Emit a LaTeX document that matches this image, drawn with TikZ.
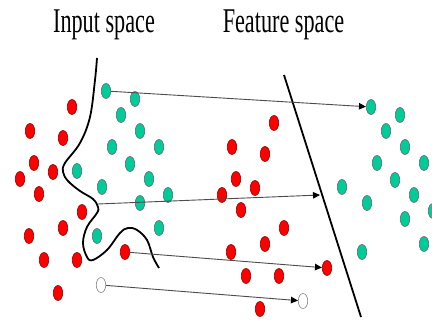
\documentclass[tikz,border=0pt]{standalone}
\usepackage{fontspec}
\setmainfont{Liberation Serif}
\usepackage{graphicx}
\usetikzlibrary{shapes.geometric,arrows.meta}
\definecolor{dotred}{RGB}{255,0,0}
\definecolor{dotteal}{RGB}{0,204,153}
\begin{document}
\begin{tikzpicture}[x=1pt,y=-1pt,
  dot/.style={ellipse,minimum width=9.5pt,minimum height=15pt,inner sep=0pt,line width=0.6pt},
  rdot/.style={dot,fill=dotred,draw=red!55!black},
  cdot/.style={dot,fill=dotteal,draw=black!60},
  wdot/.style={dot,fill=white,draw=black!50},
  arr/.style={draw=black!70,line width=0.9pt,-{Triangle[length=7pt,width=6.5pt,color=black]}},
  title/.style={font=\fontsize{34.7}{40}\selectfont,anchor=base,inner sep=0pt},
  boundary/.style={line width=1.8pt,black}]
\useasboundingbox (0,0) rectangle (432,320);
\fill[white] (0,0) rectangle (432,320);
% titles
\node[title] (tin) at (104,33) {\scalebox{0.64}[1]{Input space}};
\node[title] (tfe) at (283.5,33) {\scalebox{0.64}[1]{Feature space}};
% red points (input) and their images (feature)
\foreach \x/\y [count=\i] in {72/107,30/131,63/138,34/163,53/172,20/179,39/194,82/212,29/236,63/228,44/260,77/260,58/293,125/252}{
  \node[rdot] (r\i) at (\x,\y) {};
  \node[rdot] (fr\i) at (\x+202,\y+16) {};
}
% teal points (input) and their images (feature)
\foreach \x/\y [count=\i] in {106/91,135/99,121/115,140/131,112/147,159/147,130/164,77/171,149/179,102/187,168/195,140/203,159/228,97/236}{
  \node[cdot] (c\i) at (\x,\y) {};
  \node[cdot] (fc\i) at (\x+265,\y+16) {};
}
% white point
\node[wdot] (w) at (101,285) {};
\node[wdot] (fw) at (303,301) {};
% nonlinear boundary in input space
\draw[boundary] plot[smooth,tension=0.6] coordinates {(97,58) (95,80) (90,117) (80,143) (65,163) (63,172) (68,181) (80,191) (93,199) (98,207) (97,213) (87,227) (83,243) (87,257) (93,260) (107,250) (120,233) (128,228) (137,230) (147,240) (153,257) (159,268)};
% linear boundary in feature space
\coordinate (h1) at (284,75);
\coordinate (h2) at (361,317);
\draw[line width=1.8pt] (h1) -- (h2);
% mapping arrows
\coordinate (a2s) at (98,204);
\coordinate (a2e) at (320,195);
\draw[arr] (c1) -- (fc1);
\draw[arr] (a2s) -- (a2e);
\draw[arr] (r14) -- (fr14);
\draw[arr] (w) -- (fw);
\end{tikzpicture}
\end{document}
